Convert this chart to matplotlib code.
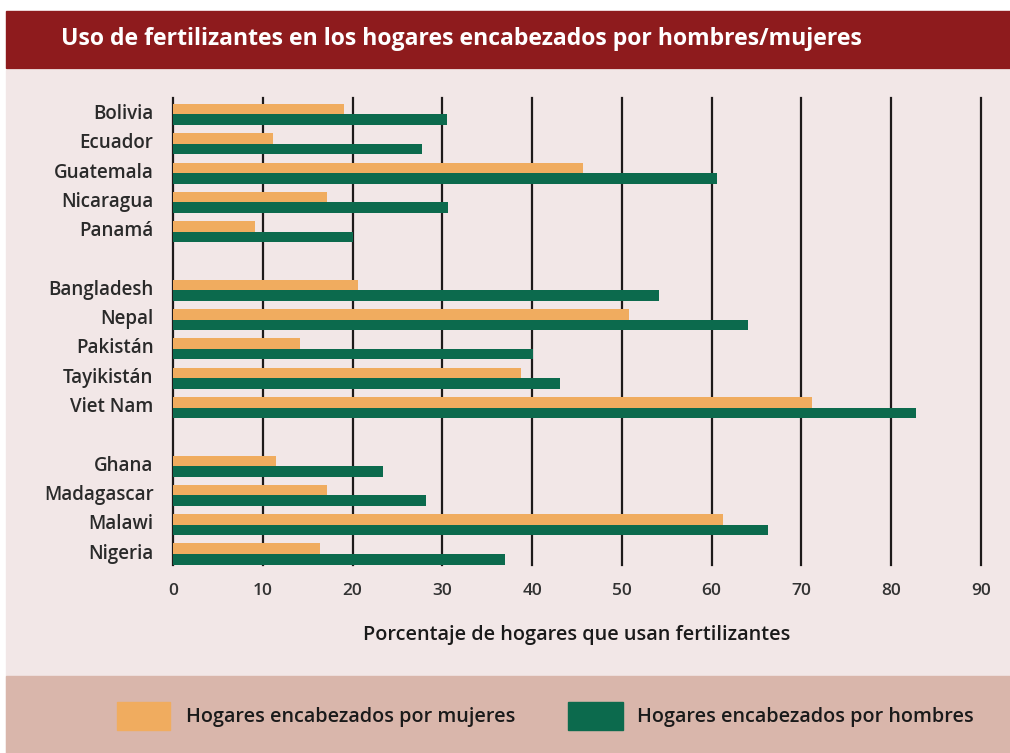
import numpy as np
import matplotlib
matplotlib.use('Agg')
import matplotlib.pyplot as plt
from matplotlib.patches import Rectangle

plt.rcParams['font.family'] = ['Open Sans', 'DejaVu Sans']

groups = [['Bolivia', 'Ecuador', 'Guatemala', 'Nicaragua', 'Panamá'],
          ['Bangladesh', 'Nepal', 'Pakistán', 'Tayikistán', 'Viet Nam'],
          ['Ghana', 'Madagascar', 'Malawi', 'Nigeria']]
women = [19.0, 11.1, 45.7, 17.1, 9.1,
         20.6, 50.8, 14.1, 38.8, 71.2,
         11.5, 17.1, 61.3, 16.4]
men = [30.5, 27.7, 60.6, 30.6, 20.0,
       54.1, 64.1, 40.1, 43.1, 82.8,
       23.4, 28.2, 66.3, 37.0]
xticks = [0, 10, 20, 30, 40, 50, 60, 70, 80, 90]

orange = '#F0AC5F'
green = '#0C6A4D'
W, H = 1010, 753

fig = plt.figure(figsize=(W / 100, H / 100), dpi=100)
fig.patch.set_facecolor('white')

# background panels
fig.add_artist(Rectangle((6 / W, 0), 1, 1 - 70 / H, transform=fig.transFigure,
                         color='#F2E7E7', zorder=0))
fig.add_artist(Rectangle((6 / W, 0), 1, 1 - 676 / H, transform=fig.transFigure,
                         color='#D9B6AB', zorder=0))
fig.add_artist(Rectangle((6 / W, 1 - 68 / H), 1, 57 / H, transform=fig.transFigure,
                         color='#8E1B1D', zorder=0))
fig.text(61 / W, 1 - 39 / H, 'Uso de fertilizantes en los hogares encabezados por hombres/mujeres',
         color='white', fontsize=16.6, fontweight='bold', va='center', ha='left')

# y positions: one empty slot between groups
labels = []
ypos = []
k = 0
for g in groups:
    for name in g:
        labels.append(name)
        ypos.append(k)
        k += 1
    k += 1
ypos = np.array(ypos, dtype=float)

ax = fig.add_axes([173 / W, 1 - 565 / H, (981 - 173) / W, (565 - 98) / H])
ax.set_facecolor('none')
ax.set_xlim(0, 90)
ax.set_ylim(15.375, -0.563)

for x in xticks:
    ax.axvline(x, color='#1E1A1A', lw=1.6, zorder=1, clip_on=False)

bh = 0.36
ax.barh(ypos - bh / 2, women, height=bh, color=orange, zorder=2)
ax.barh(ypos + bh / 2, men, height=bh, color=green, zorder=2)

ax.set_xticks(xticks)
ax.set_xticklabels([str(x) for x in xticks], fontsize=12.5, color='#333333',
                   fontweight='semibold')
ax.set_yticks(ypos - 0.1)
ax.set_yticklabels(labels, fontsize=13.5, color='#2A2A2A', fontweight='semibold')
ax.tick_params(axis='both', length=0)
ax.tick_params(axis='x', pad=13)
ax.tick_params(axis='y', pad=14)
for s in ax.spines.values():
    s.set_visible(False)
ax.set_xlabel('Porcentaje de hogares que usan fertilizantes', fontsize=14.3,
              fontweight='semibold', color='#1A1A1A', labelpad=19)

# legend band
fig.add_artist(Rectangle((117 / W, 1 - 730 / H), 53 / W, 28 / H, transform=fig.transFigure,
                         color=orange, zorder=1))
fig.add_artist(Rectangle((568 / W, 1 - 730 / H), 55 / W, 28 / H, transform=fig.transFigure,
                         color=green, zorder=1))
fig.text(186 / W, 1 - 717 / H, 'Hogares encabezados por mujeres', fontsize=14.2,
         color='#1A1A1A', va='center', ha='left', fontweight='semibold')
fig.text(637 / W, 1 - 717 / H, 'Hogares encabezados por hombres', fontsize=14.2,
         color='#1A1A1A', va='center', ha='left', fontweight='semibold')

fig.savefig('out.png', dpi=100)
